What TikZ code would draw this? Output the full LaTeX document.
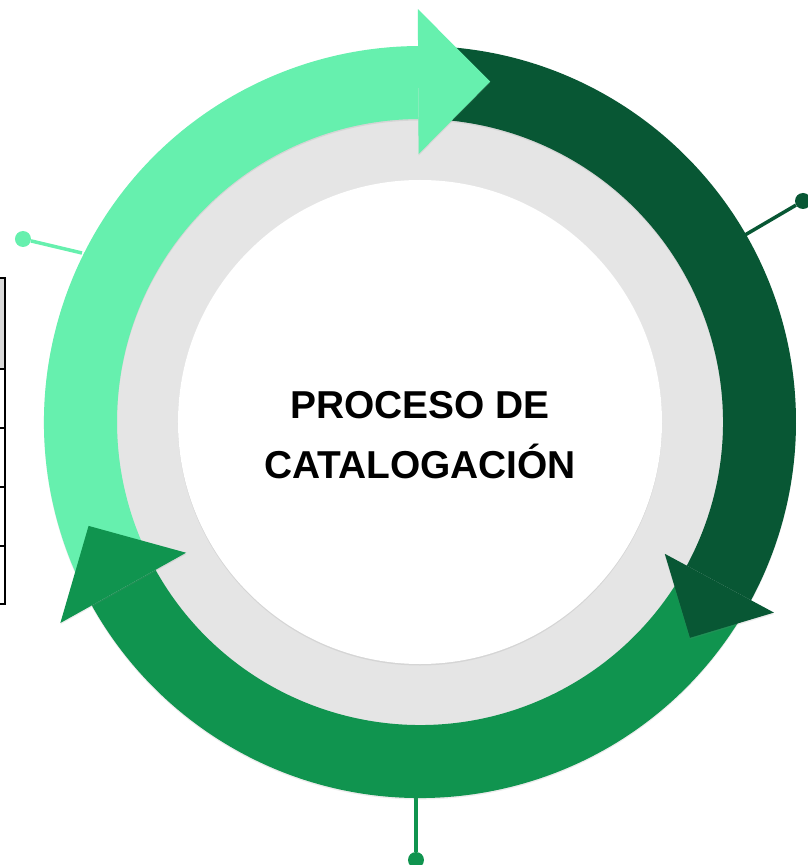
\documentclass[tikz,border=0pt]{standalone}
\usepackage{fontspec}
\setmainfont{Liberation Sans}
\usetikzlibrary{calc,shadows}
\definecolor{mint}{HTML}{66F0AE}
\definecolor{forest}{HTML}{085734}
\definecolor{leaf}{HTML}{10944F}
\definecolor{ringgray}{HTML}{E5E5E5}
\definecolor{cellgray}{HTML}{D9D9D9}

\begin{document}
\begin{tikzpicture}
[
x=1pt,y=1pt,
seg/.style={drop shadow={opacity=.15,shadow xshift=0pt,shadow yshift=-1.5pt}},
lead/.style={line width=3.5pt},
dot/.style={circle,inner sep=0pt,minimum size=16pt},
title/.style={font=\bfseries\fontsize{38.9}{47}\selectfont,anchor=base,inner sep=0pt},
grid/.style={line width=2pt,black}
]
\useasboundingbox (-420,-443) rectangle (387,422);

\fill[cellgray] (-425,144) rectangle (-415,53);
\draw[grid] (-425,144) -- (-415,144) -- (-415,-182) -- (-425,-182);
\foreach \y in {53,-6,-65,-124}
  \draw[grid] (-425,\y) -- (-415,\y);

\node[dot,fill=mint] (dotA) at (-397,183) {};
\node[dot,fill=forest] (dotB) at (383,221) {};
\node[dot,fill=leaf] (dotC) at (-4,-438) {};
\coordinate (endA) at (-338,169);
\coordinate (endB) at (325,187);
\coordinate (endC) at (-4,-375);
\draw[lead,mint] (endA) -- (dotA);
\draw[lead,forest] (endB) -- (dotB);
\draw[lead,leaf] (endC) -- (dotC);

\fill[ringgray] (0,0) circle[radius=305];
\fill[white,seg] (0,0) circle[radius=242];

\fill[mint,seg] (206.5:376) arc[start angle=206.5,end angle=90.3,radius=376]
  -- (90.3:303) arc[start angle=90.3,end angle=206.5,radius=303] -- cycle;
\fill[forest,seg] (89:376) arc[start angle=89,end angle=-28.3,radius=376]
  -- (-28.3:303) arc[start angle=-28.3,end angle=89,radius=303] -- cycle;
\fill[leaf,seg] (-31:376) arc[start angle=-31,end angle=-150.8,radius=376]
  -- (-150.8:303) arc[start angle=-150.8,end angle=-31,radius=303] -- cycle;

\fill[mint,seg] (90.3:413) -- ($(90.3:340)+(0.3:72)$) -- (90.3:268) -- cycle;
\fill[forest,seg] (-28.3:402) -- ($(-28.3:340)+(-118.3:62)$) -- (-28.3:278) -- cycle;
\fill[leaf,seg] (-150.8:412) -- ($(-150.8:340)+(-240.8:71)$) -- (-150.8:268) -- cycle;

\node[title] (proceso) at (0,4) {PROCESO DE};
\node[title] (catalogacion) at (0,-56) {CATALOGACIÓN};
\end{tikzpicture}
\end{document}
